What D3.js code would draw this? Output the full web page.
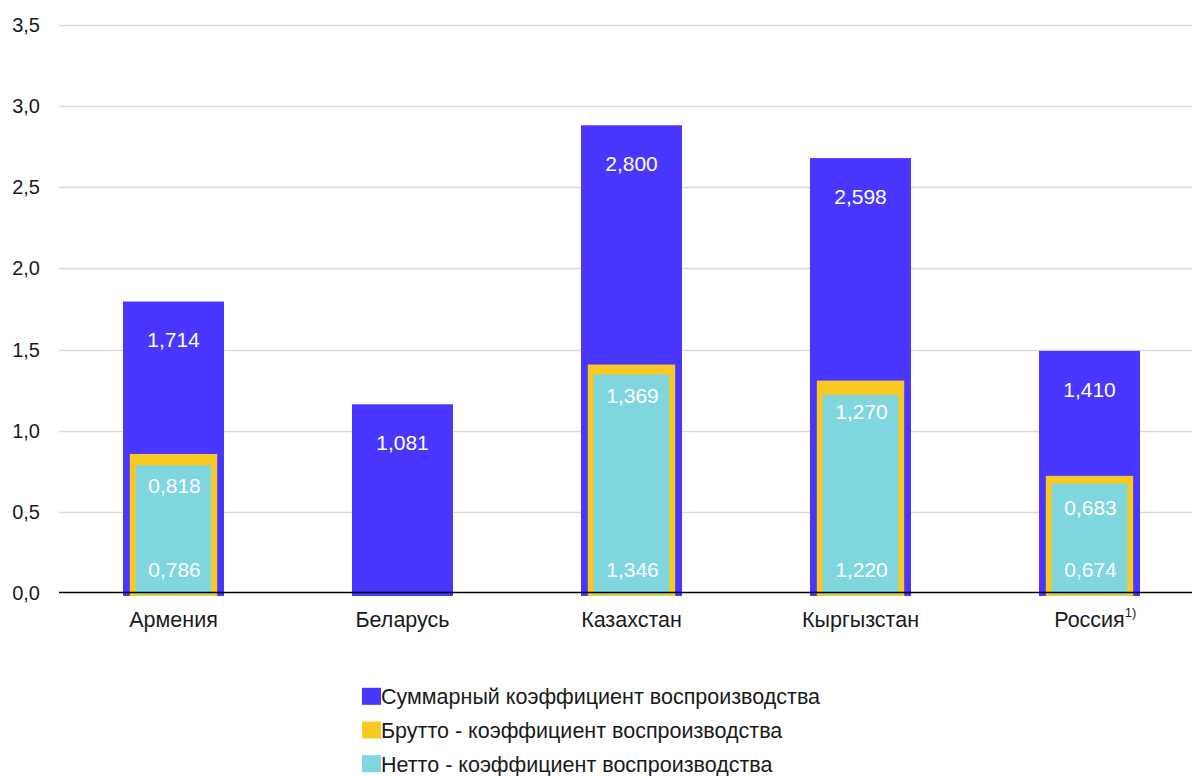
<!DOCTYPE html>
<html>
<head>
<meta charset="utf-8">
<script src="https://cdn.jsdelivr.net/npm/d3@7"></script>
<style>
  html, body { margin: 0; padding: 0; background: #ffffff; }
  svg { display: block; font-family: "Liberation Sans", Arial, sans-serif; }
</style>
</head>
<body>
<svg id="chart" width="1192" height="776"></svg>
<script>
const categories = ["Армения", "Беларусь", "Казахстан", "Кыргызстан", "Россия"];
const categoryNotes = ["", "", "", "", "1)"];
const totalValues = [1.714, 1.081, 2.800, 2.598, 1.410];
const grossValues = [0.818, null, 1.369, 1.270, 0.683];
const netValues = [0.786, null, 1.346, 1.220, 0.674];
const yTicks = [0, 0.5, 1.0, 1.5, 2.0, 2.5, 3.0, 3.5];
const seriesNames = ["Суммарный коэффициент воспроизводства", "Брутто - коэффициент воспроизводства", "Нетто - коэффициент воспроизводства"];
const seriesColors = ["#4936ff", "#f8c823", "#80d6df"];

const fmt = v => v.toFixed(3).replace(".", ",");
const fmtTick = v => v.toFixed(1).replace(".", ",");

const svg = d3.select("#chart");
const x = d3.scaleBand().domain(categories).range([59, 1204]).padding(0);
const y = d3.scaleLinear().domain([0, 3.5]).range([593, 25]);
const cx = c => x(c) + x.bandwidth() / 2;

// gridlines
svg.append("g").selectAll("line").data(yTicks.filter(t => t > 0)).join("line")
  .attr("x1", 59).attr("x2", 1192)
  .attr("y1", d => Math.round(y(d)) + 0.5).attr("y2", d => Math.round(y(d)) + 0.5)
  .attr("stroke", "#d9d9d9").attr("stroke-width", 1.3);

// y tick labels
svg.append("g").selectAll("text").data(yTicks).join("text")
  .attr("x", 40).attr("y", d => y(d) + 7)
  .attr("text-anchor", "end").attr("font-size", 20).attr("fill", "#1a1a1a")
  .text(fmtTick);

const rows = categories.map((c, i) => ({c, total: totalValues[i], gross: grossValues[i], net: netValues[i], note: categoryNotes[i]}));

// total bars
svg.append("g").selectAll("rect").data(rows).join("rect")
  .attr("x", d => cx(d.c) - 50.5).attr("width", 101)
  .attr("y", d => y(d.total) - 13.3)
  .attr("height", d => y(0) + 3 - (y(d.total) - 13.3))
  .attr("fill", seriesColors[0]);

const withGross = rows.filter(d => d.gross != null);
// gross bars
svg.append("g").selectAll("rect").data(withGross).join("rect")
  .attr("x", d => cx(d.c) - 43.7).attr("width", 87.4)
  .attr("y", d => y(d.gross) - 6.3)
  .attr("height", d => y(0) + 3 - (y(d.gross) - 6.3))
  .attr("fill", seriesColors[1]);

// net bars
svg.append("g").selectAll("rect").data(rows.filter(d => d.net != null)).join("rect")
  .attr("x", d => cx(d.c) - 37.8).attr("width", 75.6)
  .attr("y", d => y(d.net))
  .attr("height", d => y(0) + 1.5 - y(d.net))
  .attr("fill", seriesColors[2]);

// value labels
const labels = svg.append("g").attr("font-size", 21).attr("fill", "#ffffff").attr("text-anchor", "middle");
labels.selectAll("text.t").data(rows).join("text").attr("class", "t")
  .attr("x", d => cx(d.c)).attr("y", d => y(d.total) + 32.5).text(d => fmt(d.total));
labels.selectAll("text.g").data(withGross).join("text").attr("class", "g")
  .attr("x", d => cx(d.c) + 1).attr("y", d => y(d.gross) + 32.5).text(d => fmt(d.gross));
labels.selectAll("text.n").data(rows.filter(d => d.net != null)).join("text").attr("class", "n")
  .attr("x", d => cx(d.c) + 1).attr("y", y(0) - 15.7).text(d => fmt(d.net));

// x axis line
svg.append("line").attr("x1", 59).attr("x2", 1192)
  .attr("y1", y(0) - 0.5).attr("y2", y(0) - 0.5)
  .attr("stroke", "#000000").attr("stroke-width", 1.3);

// category labels
const cat = svg.append("g").attr("font-size", 21.5).attr("fill", "#1a1a1a");
rows.forEach(d => {
  const t = cat.append("text").attr("x", cx(d.c)).attr("y", 627).attr("text-anchor", "middle");
  t.append("tspan").text(d.c);
  if (d.note) {
    t.append("tspan").attr("font-size", 13).attr("dy", -10).text(d.note);
  }
});
// shift noted label so that the main word stays centered
cat.selectAll("text").each(function(d, i) {
  if (categoryNotes[i]) {
    const sup = d3.select(this).select("tspan:nth-child(2)").node();
    const w = sup.getComputedTextLength();
    d3.select(this).attr("x", cx(categories[i]) + w / 2);
  }
});

// legend
const legend = svg.append("g");
seriesNames.forEach((name, i) => {
  const yy = 704.3 + i * 33.7;
  legend.append("rect").attr("x", 362).attr("y", yy - 16.5).attr("width", 19).attr("height", 17)
    .attr("fill", seriesColors[i]);
  legend.append("text").attr("x", 381).attr("y", yy).attr("font-size", 21.5).attr("fill", "#1a1a1a").text(name);
});
</script>
</body>
</html>
